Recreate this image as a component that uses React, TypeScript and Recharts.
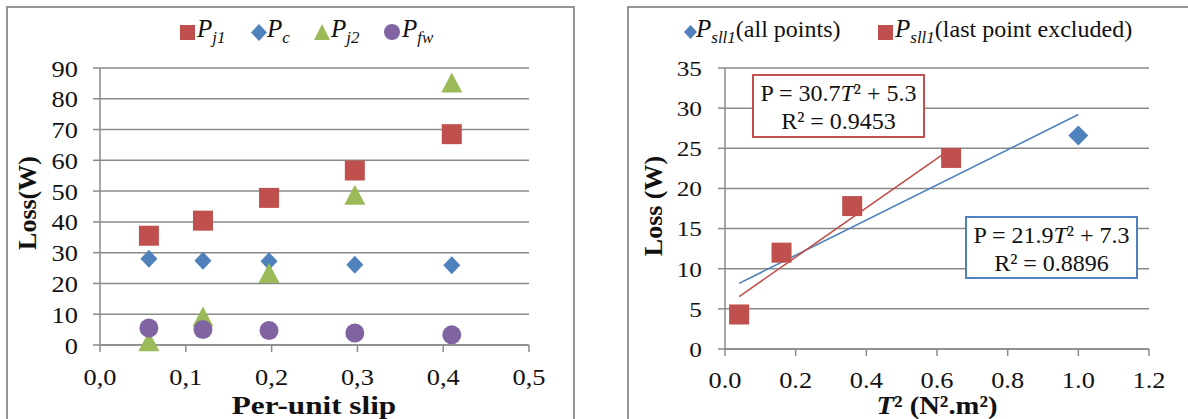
import React from 'react';
import { ScatterChart, Scatter, XAxis, YAxis, CartesianGrid } from 'recharts';

const FONT = '"Liberation Serif", Tinos, "Times New Roman", serif';
const RED = '#C0504D';
const BLUE = '#4F81BD';
const GREEN = '#9BBB59';
const PURPLE = '#8064A2';
const GRID = '#8a8a8a';

// ---- left chart data ----
const slip = [0.057, 0.12, 0.197, 0.297, 0.41];
const pj1 = [35.5, 40.4, 47.8, 56.7, 68.5];
const pc = [28.0, 27.4, 27.2, 26.1, 25.9];
const pj2 = [1.2, 9.3, 23.4, 48.8, 85.3];
const pfw = [5.5, 5.0, 4.7, 3.9, 3.3];
const slipTicks = [0, 0.1, 0.2, 0.3, 0.4, 0.5];
const slipTickLabels = ['0,0', '0,1', '0,2', '0,3', '0,4', '0,5'];
const lossTicksLeft = [0, 10, 20, 30, 40, 50, 60, 70, 80, 90];
const lossTickLabelsLeft = ['0', '10', '20', '30', '40', '50', '60', '70', '80', '90'];

// ---- right chart data ----
const torqueSq = [0.04, 0.16, 0.36, 0.64, 1.0];
const psll1 = [4.3, 12.0, 17.8, 23.8, 26.6];
const fitAllSlope = 21.9;
const fitAllIntercept = 7.3;
const fitExclSlope = 30.7;
const fitExclIntercept = 5.3;
const tSqTicks = [0, 0.2, 0.4, 0.6, 0.8, 1.0, 1.2];
const tSqTickLabels = ['0.0', '0.2', '0.4', '0.6', '0.8', '1.0', '1.2'];
const lossTicksRight = [0, 5, 10, 15, 20, 25, 30, 35];
const lossTickLabelsRight = ['0', '5', '10', '15', '20', '25', '30', '35'];

const zip = (xs: number[], ys: number[]) => xs.map((x, i) => ({ x, y: ys[i] }));

const pj1Data = zip(slip, pj1);
const pcData = zip(slip, pc);
const pj2Data = zip(slip, pj2);
const pfwData = zip(slip, pfw);

const allPts = zip(torqueSq, psll1);
const exclPts = allPts.slice(0, 4);
const lineOf = (pts: { x: number }[], m: number, b: number) => {
  const xs = pts.map((p) => p.x);
  const x0 = Math.min(...xs);
  const x1 = Math.max(...xs);
  return [
    { x: x0, y: m * x0 + b },
    { x: x1, y: m * x1 + b },
  ];
};
const trendAll = lineOf(allPts, fitAllSlope, fitAllIntercept);
const trendExcl = lineOf(exclPts, fitExclSlope, fitExclIntercept);

// ---- shapes ----
const squareShape = (color: string, size: number) => (p: any) =>
  p.cx == null ? <g /> : <rect x={p.cx - size / 2} y={p.cy - size / 2} width={size} height={size} fill={color} />;
const diamondShape = (color: string, hw: number, hh: number) => (p: any) =>
  p.cx == null ? (
    <g />
  ) : (
    <polygon
      points={`${p.cx},${p.cy - hh} ${p.cx + hw},${p.cy} ${p.cx},${p.cy + hh} ${p.cx - hw},${p.cy}`}
      fill={color}
    />
  );
const triangleShape = (color: string, w: number, h: number) => (p: any) =>
  p.cx == null ? (
    <g />
  ) : (
    <polygon
      points={`${p.cx},${p.cy - h / 2} ${p.cx + w / 2},${p.cy + h / 2} ${p.cx - w / 2},${p.cy + h / 2}`}
      fill={color}
    />
  );
const circleShape = (color: string, r: number) => (p: any) =>
  p.cx == null ? <g /> : <circle cx={p.cx} cy={p.cy} r={r} fill={color} />;
const noShape = () => <g />;

// ---- ticks ----
const makeTick = (ticks: number[], labels: string[], fontSize: number, sx: number, axis: 'x' | 'y') => (props: any) => {
  const { x, y, payload, textAnchor } = props;
  const idx = ticks.findIndex((t) => Math.abs(t - payload.value) < 1e-9);
  const label = idx >= 0 ? labels[idx] : String(payload.value);
  return (
    <text
      transform={`translate(${x},${y}) scale(${sx},1)`}
      textAnchor={textAnchor}
      dy={axis === 'x' ? '0.71em' : '0.355em'}
      style={{ fontFamily: FONT, fontSize }}
      fill="#111"
    >
      {label}
    </text>
  );
};

const axisLine = { stroke: GRID, strokeWidth: 1.5 };

const abs = (l: number, t: number): React.CSSProperties => ({ position: 'absolute', left: l, top: t });

const LegendP = ({ sub, rest }: { sub: string; rest?: string }) => (
  <span style={{ fontFamily: FONT, fontSize: 25, color: '#111', whiteSpace: 'nowrap', lineHeight: '30px' }}>
    <i>P</i>
    <i style={{ fontSize: 17, position: 'relative', top: 6 }}>{sub}</i>
    {rest ? <span style={{ fontSize: 24 }}>{rest}</span> : null}
  </span>
);

const titleStyle: React.CSSProperties = {
  fontFamily: FONT,
  fontWeight: 'bold',
  fontSize: 26,
  whiteSpace: 'nowrap',
  color: '#111',
};

const boxStyle = (color: string): React.CSSProperties => ({
  width: 173,
  height: 64,
  border: `2px solid ${color}`,
  boxSizing: 'border-box',
  background: '#fff',
  textAlign: 'center',
  fontFamily: FONT,
  fontSize: 24,
  lineHeight: '28px',
  paddingTop: 3,
  color: '#111',
  whiteSpace: 'nowrap',
});

export default function App() {
  return (
    <div
      style={{
        position: 'absolute',
        left: 0,
        top: 0,
        width: 1188,
        height: 419,
        background: '#fff',
        overflow: 'hidden',
        fontFamily: FONT,
      }}
    >
      {/* panel frames */}
      <div style={{ ...abs(6, 6), width: 569, height: 500, border: '2px solid #959595', boxSizing: 'border-box' }} />
      <div style={{ ...abs(627, 6), width: 700, height: 500, border: '2px solid #959595', boxSizing: 'border-box' }} />

      {/* left chart */}
      <div style={abs(0, 0)}>
        <ScatterChart width={574} height={419} margin={{ top: 68, right: 45, bottom: 34, left: 20 }}>
          <CartesianGrid horizontal vertical={false} stroke={GRID} strokeWidth={1.5} />
          <XAxis
            type="number"
            dataKey="x"
            domain={[0, 0.5]}
            ticks={slipTicks}
            height={40}
            axisLine={axisLine}
            tickLine={axisLine}
            tickSize={7}
            tickMargin={16}
            tick={makeTick(slipTicks, slipTickLabels, 24, 1.1, 'x')}
          />
          <YAxis
            type="number"
            dataKey="y"
            domain={[0, 90]}
            ticks={lossTicksLeft}
            width={80}
            axisLine={axisLine}
            tickLine={axisLine}
            tickSize={7}
            tickMargin={15}
            tick={makeTick(lossTicksLeft, lossTickLabelsLeft, 24, 1.1, 'y')}
          />
          <Scatter data={pj1Data} shape={squareShape(RED, 20)} isAnimationActive={false} />
          <Scatter data={pcData} shape={diamondShape(BLUE, 8.5, 9)} isAnimationActive={false} />
          <Scatter data={pj2Data} shape={triangleShape(GREEN, 21, 20)} isAnimationActive={false} />
          <Scatter data={pfwData} shape={circleShape(PURPLE, 9.5)} isAnimationActive={false} />
        </ScatterChart>
      </div>

      {/* right chart */}
      <div style={abs(628, 0)}>
        <ScatterChart width={560} height={419} margin={{ top: 68, right: 39, bottom: 30, left: 17 }}>
          <CartesianGrid horizontal vertical={false} stroke={GRID} strokeWidth={1.5} />
          <XAxis
            type="number"
            dataKey="x"
            domain={[0, 1.2]}
            ticks={tSqTicks}
            height={40}
            axisLine={axisLine}
            tickLine={axisLine}
            tickSize={7}
            tickMargin={15}
            tick={makeTick(tSqTicks, tSqTickLabels, 24, 1.1, 'x')}
          />
          <YAxis
            type="number"
            dataKey="y"
            domain={[0, 35]}
            ticks={lossTicksRight}
            width={80}
            axisLine={axisLine}
            tickLine={axisLine}
            tickSize={7}
            tickMargin={16}
            tick={makeTick(lossTicksRight, lossTickLabelsRight, 22, 1.15, 'y')}
          />
          <Scatter data={trendAll} shape={noShape} line={{ stroke: BLUE, strokeWidth: 1.6 }} isAnimationActive={false} />
          <Scatter data={trendExcl} shape={noShape} line={{ stroke: RED, strokeWidth: 1.6 }} isAnimationActive={false} />
          <Scatter data={allPts} shape={diamondShape(BLUE, 10, 10)} isAnimationActive={false} />
          <Scatter data={exclPts} shape={squareShape(RED, 20)} isAnimationActive={false} />
        </ScatterChart>
      </div>

      {/* left legend */}
      <div style={{ ...abs(180, 25), width: 15, height: 15, background: RED }} />
      <div style={abs(197, 14)}><LegendP sub="j1" /></div>
      <svg style={abs(251, 24)} width={16} height={17}><polygon points="8,0 16,8.5 8,17 0,8.5" fill={BLUE} /></svg>
      <div style={abs(267, 14)}><LegendP sub="c" /></div>
      <svg style={abs(314, 24)} width={16} height={16}><polygon points="8,0 16,16 0,16" fill={GREEN} /></svg>
      <div style={abs(331, 14)}><LegendP sub="j2" /></div>
      <svg style={abs(384, 24)} width={16} height={16}><circle cx={8} cy={8} r={8} fill={PURPLE} /></svg>
      <div style={abs(402, 14)}><LegendP sub="fw" /></div>

      {/* right legend */}
      <svg style={abs(684, 25)} width={13} height={14}><polygon points="6.5,0 13,7 6.5,14 0,7" fill={BLUE} /></svg>
      <div style={abs(696, 14)}><LegendP sub="sll1" rest="(all points)" /></div>
      <div style={{ ...abs(878, 25), width: 15, height: 15, background: RED }} />
      <div style={abs(895, 14)}><LegendP sub="sll1" rest="(last point excluded)" /></div>

      {/* axis titles */}
      <div style={{ ...abs(28, 203), ...titleStyle, transform: 'translate(-50%,-50%) rotate(-90deg)' }}>Loss(W)</div>
      <div style={{ ...abs(654, 206), ...titleStyle, transform: 'translate(-50%,-50%) rotate(-90deg)' }}>Loss (W)</div>
      <div style={{ ...abs(314, 406), ...titleStyle, transform: 'translate(-50%,-50%) scaleX(1.2)' }}>Per-unit slip</div>
      <div style={{ ...abs(937, 406), ...titleStyle, transform: 'translate(-50%,-50%) scaleX(1.1)' }}>
        <i>T</i>² (N².m²)
      </div>

      {/* equation boxes */}
      <div style={{ ...abs(752, 74), ...boxStyle(RED) }}>
        P = 30.7<i>T</i>² + 5.3
        <br />
        R² = 0.9453
      </div>
      <div style={{ ...abs(965, 216), ...boxStyle(BLUE), height: 63 }}>
        P = 21.9<i>T</i>² + 7.3
        <br />
        R² = 0.8896
      </div>
    </div>
  );
}
